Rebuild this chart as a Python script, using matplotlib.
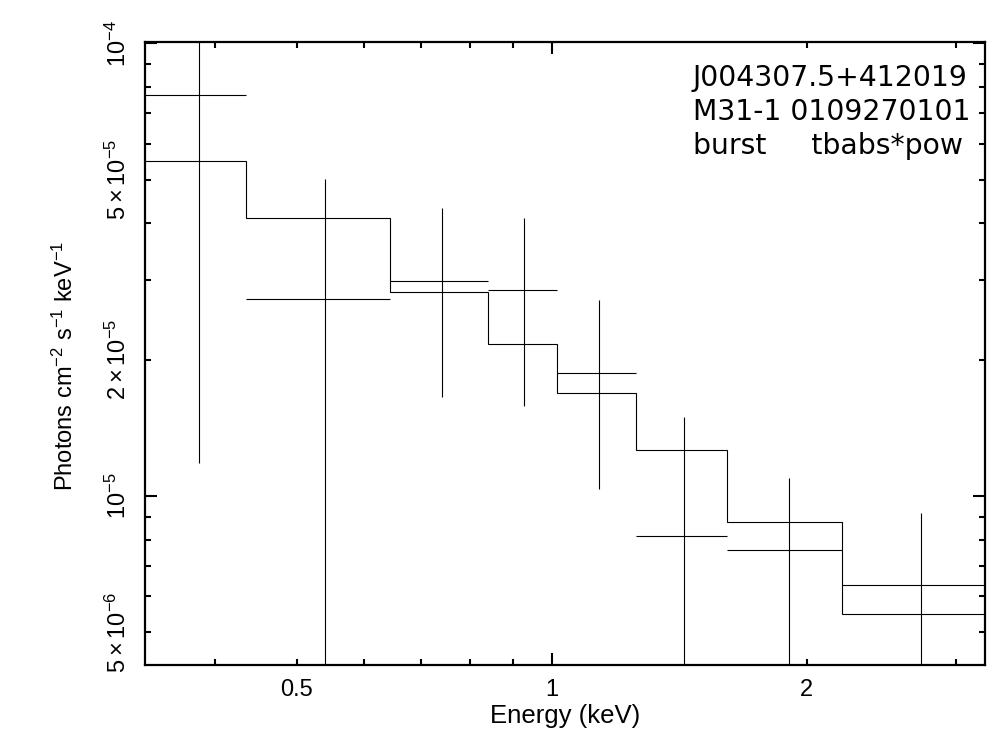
import numpy as np
import matplotlib
matplotlib.use("Agg")
import matplotlib.pyplot as plt

plt.rcParams['font.family'] = ['Liberation Sans', 'DejaVu Sans']
plt.rcParams['mathtext.fontset'] = 'custom'
plt.rcParams['mathtext.rm'] = 'Liberation Sans'
plt.rcParams['mathtext.it'] = 'Liberation Sans:italic'

# Spectrum data (unfolded)
edges = [0.331, 0.435, 0.644, 0.841, 1.014, 1.258, 1.608, 2.203, 3.247]
flux = [7.70e-5, 2.72e-5, 2.98e-5, 2.85e-5, 1.872e-5, 8.14e-6, 7.58e-6, 6.35e-6]
flux_hi = [1.45e-4, 5.01e-5, 4.32e-5, 4.11e-5, 2.713e-5, 1.494e-5, 1.096e-5, 9.17e-6]
flux_lo = [1.18e-5, 4.0e-6, 1.656e-5, 1.577e-5, 1.036e-5, 1.5e-6, 4.0e-6, 3.5e-6]
model = [5.49e-5, 4.11e-5, 2.82e-5, 2.166e-5, 1.690e-5, 1.265e-5, 8.76e-6, 5.49e-6]

xtick_minor = [0.4, 0.5, 0.6, 0.7, 0.8, 0.9, 2, 3]
xtick_minor_labels = ['', '0.5', '', '', '', '', '2', '']
ytick_minor = [5e-6, 6e-6, 7e-6, 8e-6, 9e-6, 2e-5, 3e-5, 4e-5, 5e-5, 6e-5, 7e-5, 8e-5, 9e-5]
ytick_minor_labels = [r'$5\times10^{-6}$', '', '', '', '', r'$2\times10^{-5}$', '', '',
                      r'$5\times10^{-5}$', '', '', '', '']

edges = np.array(edges)
centers = 0.5 * (edges[:-1] + edges[1:])
halfw = 0.5 * (edges[1:] - edges[:-1])
flux = np.array(flux)

fig = plt.figure(figsize=(9.88, 7.31), dpi=100)
ax = fig.add_axes([0.1468, 0.0903, 0.8502, 0.8522])

ax.errorbar(centers, flux, xerr=halfw,
            yerr=[flux - np.array(flux_lo), np.array(flux_hi) - flux],
            fmt='none', ecolor='black', elinewidth=0.8, capsize=0)
ax.stairs(model, edges, baseline=None, color='black', linewidth=0.8)

ax.set_xscale('log')
ax.set_yscale('log')
ax.set_xlim(edges[0], edges[-1])
ax.set_ylim(4.23e-6, 1.0066e-4)

ax.set_xticks([1], labels=['1'])
ax.set_xticks(xtick_minor, labels=xtick_minor_labels, minor=True)
ax.set_yticks([1e-5, 1e-4], labels=[r'$10^{-5}$', r'$10^{-4}$'])
ax.set_yticks(ytick_minor, labels=ytick_minor_labels, minor=True)

ax.tick_params(which='both', direction='in', top=True, right=True, width=1.5,
               labelsize=17, pad=10)
ax.tick_params(which='major', length=8.5)
ax.tick_params(which='minor', length=4.5)
for lab in ax.get_yticklabels(which='both'):
    lab.set_rotation(90)
    lab.set_va('center')
for s in ax.spines.values():
    s.set_linewidth(1.6)

ax.set_xlabel('Energy (keV)', fontsize=18.5, labelpad=2)
ax.set_ylabel(r'Photons cm$^{-2}$ s$^{-1}$ keV$^{-1}$', fontsize=17)
ax.yaxis.set_label_coords(-0.08, 0.48)

ax.text(0.652, 0.965, 'J004307.5+412019\nM31-1 0109270101\nburst     tbabs*pow',
        transform=ax.transAxes, ha='left', va='top', fontsize=20.3,
        family='DejaVu Sans', linespacing=1.28)

fig.savefig('out.png', dpi=100)
